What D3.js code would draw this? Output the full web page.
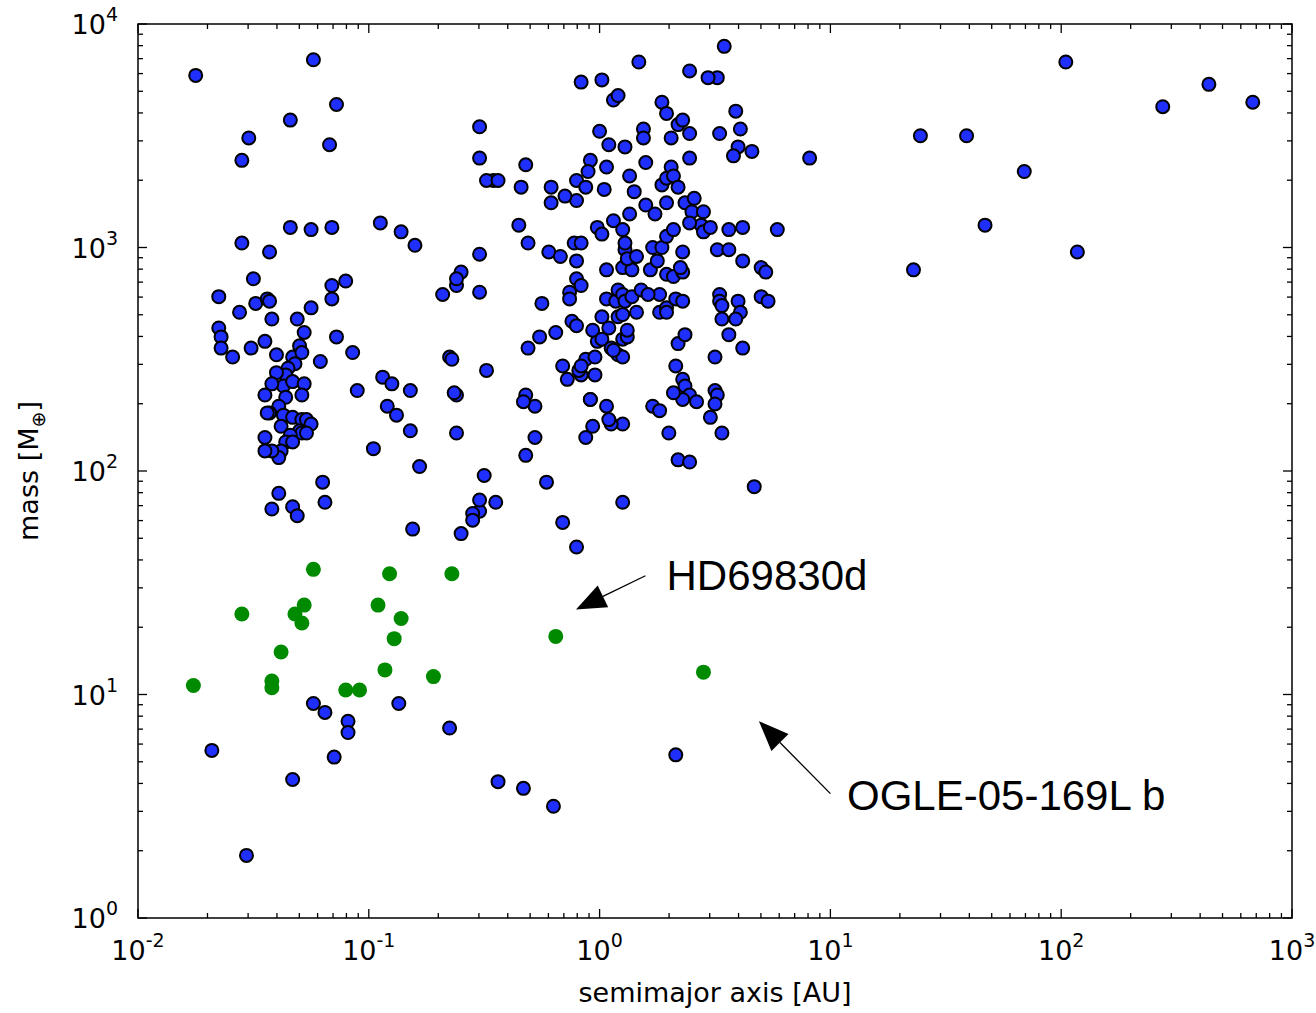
<!DOCTYPE html>
<html>
<head>
<meta charset="utf-8">
<script src="https://cdn.jsdelivr.net/npm/d3@7"></script>
<style>
  body { margin: 0; background: #fff; }
  text { font-family: "DejaVu Sans", sans-serif; }
  text.note { font-family: "Liberation Sans", Arial, sans-serif; }
</style>
</head>
<body>
<div id="chart"></div>
<script>
// log10 of semimajor axis [AU] and mass [M_earth]
var blueLogA = [-1.75,-1.24,-1.14,-1.34,-1.52,-1.17,-1.55,-1.34,-1.25,-1.16,-1.55,-1.43,-1.65,-1.65,-1.64,-1.64,-1.59,-1.51,-1.50,-1.56,-1.49,-1.44,-1.43,-1.42,-1.45,-1.40,-1.31,-1.25,-1.28,-1.16,-1.16,-1.10,-1.14,-1.21,-1.07,-1.05,-1.30,-1.33,-1.29,-1.32,-1.35,-1.36,-1.40,-1.37,-1.33,-1.28,-1.29,-1.36,-1.42,-1.45,-1.39,-1.43,-1.37,-1.38,-1.33,-1.29,-1.30,-1.27,-1.25,-1.29,-1.34,-1.36,-1.38,-1.39,-1.42,-1.45,-1.44,-1.33,-1.27,-1.45,-1.39,-1.42,-1.33,-1.31,-1.20,-1.19,
  -0.95,-0.86,-0.80,-0.68,-0.62,-0.60,-0.62,-0.65,-0.52,-0.52,-0.46,-0.52,-0.52,-0.49,-0.44,-0.34,-0.32,-0.35,-0.31,-0.21,-0.21,-0.22,-0.17,-0.19,-0.31,-0.32,-0.28,-0.33,-0.28,-0.32,-0.23,-0.26,-0.25,-0.62,-0.62,-0.64,-0.49,-0.50,-0.52,-0.55,-0.55,-0.60,-0.52,-0.45,-0.63,-0.94,-0.90,-0.92,-0.88,-0.82,-0.82,-0.78,-0.81,-0.98,-0.16,-0.10,
  -0.08,0.01,0.06,0.08,0.17,0.54,0.39,0.51,0.47,0.00,0.04,0.11,0.19,0.19,0.27,0.29,0.34,0.36,0.39,0.31,0.39,0.31,0.20,0.13,-0.04,-0.05,0.03,-0.10,-0.06,-0.10,-0.15,0.02,0.15,0.20,0.13,0.24,0.27,0.29,0.32,0.34,0.29,0.37,0.40,0.41,0.45,0.52,0.61,0.59,0.60,0.66,0.58,0.44,0.45,0.48,0.51,0.56,0.56,0.62,0.62,0.70,0.72,0.77,0.70,0.73,0.60,0.61,0.52,0.52,0.53,0.53,0.59,0.56,0.50,0.34,0.33,0.36,0.37,0.39,0.36,0.32,0.23,0.26,0.30,0.34,0.39,0.42,0.50,0.48,0.51,0.50,0.53,0.62,0.67,0.10,0.10,0.05,0.03,-0.04,-0.06,-0.08,-0.16,-0.01,-0.02,-0.06,-0.03,0.01,0.04,0.05,0.10,0.12,0.08,0.10,-0.02,0.01,0.03,0.07,0.08,0.10,0.08,0.10,0.11,0.03,0.10,0.14,0.14,0.18,0.22,0.23,0.25,0.27,0.29,0.32,0.36,0.35,0.36,0.39,0.29,0.32,0.26,0.26,0.29,0.33,0.36,0.37,0.29,0.21,0.16,0.12,-0.11,-0.08,-0.10,-0.10,-0.08,-0.13,-0.12,-0.10,-0.01,0.01,0.06,0.10,0.11,0.12,0.11,0.16,-0.09,-0.13,-0.08,-0.14,-0.04,-0.03,0.04,0.06,
  0.91,1.39,1.59,1.84,1.67,2.07,1.36,2.02,2.44,2.64,2.83,
  -1.24,-1.19,-1.09,-1.09,-1.15,-1.33,-1.68,-1.53,-0.87,-0.65,-0.44,-0.33,-0.20,0.33];
var blueLogM = [3.77,3.84,3.64,3.57,3.49,3.46,3.39,3.09,3.08,3.09,3.02,2.98,2.78,2.64,2.60,2.55,2.51,2.55,2.86,2.71,2.75,2.77,2.76,2.68,2.58,2.52,2.68,2.73,2.62,2.83,2.77,2.85,2.60,2.49,2.53,2.36,2.56,2.51,2.53,2.48,2.46,2.43,2.44,2.38,2.40,2.39,2.34,2.33,2.39,2.34,2.29,2.26,2.25,2.20,2.24,2.23,2.18,2.23,2.21,2.17,2.16,2.13,2.09,2.06,2.09,2.15,2.26,2.13,2.17,2.09,1.90,1.83,1.84,1.80,1.95,1.86,
  3.11,3.07,3.01,2.79,2.83,2.89,2.86,2.51,2.97,2.80,3.30,3.54,3.40,3.30,3.30,3.27,3.37,3.10,3.02,3.27,3.20,2.98,2.96,2.62,2.55,2.34,2.29,2.31,2.15,2.07,1.95,2.60,2.75,2.34,2.17,2.50,2.45,1.98,1.82,1.81,1.78,1.72,1.87,1.86,2.35,2.42,2.39,2.29,2.25,2.36,2.18,2.02,1.74,2.10,1.77,1.66,
  3.74,3.75,3.66,3.68,3.83,3.90,3.79,3.76,3.76,3.52,3.46,3.45,3.53,3.49,3.65,3.60,3.55,3.57,3.51,3.49,3.40,3.36,3.38,3.32,3.39,3.34,3.36,3.30,3.27,3.21,3.23,3.26,3.25,3.19,3.15,3.15,3.28,3.31,3.32,3.27,3.20,3.20,3.16,3.22,3.16,3.51,3.53,3.61,3.45,3.43,3.41,3.10,3.07,3.09,2.99,3.08,2.99,3.09,2.94,2.91,2.89,3.08,2.78,2.76,2.76,2.71,2.79,2.76,2.74,2.68,2.68,2.61,2.51,2.57,2.47,2.41,2.38,2.34,2.32,2.35,2.29,2.27,2.17,2.05,2.04,2.31,2.36,2.24,2.34,2.30,2.17,2.55,1.93,1.86,2.21,2.21,2.29,2.32,2.15,2.43,2.47,2.58,2.43,2.50,2.63,2.59,2.64,2.55,2.59,2.60,2.52,2.51,2.51,2.69,2.77,2.76,2.69,2.70,2.81,2.79,2.76,2.90,2.91,2.90,2.78,2.81,2.90,3.00,2.94,3.00,2.88,2.87,2.89,2.91,2.98,3.11,3.05,3.08,2.79,2.71,2.73,2.77,2.76,2.61,2.71,2.79,2.71,2.63,3.02,3.02,2.94,2.86,2.83,2.80,2.67,2.65,3.09,3.06,3.12,3.08,2.99,2.95,3.02,2.96,2.45,2.77,2.47,2.41,2.32,2.20,2.23,2.54,
  3.40,3.50,3.50,3.34,3.10,2.98,2.90,3.83,3.63,3.73,3.65,
  0.96,0.92,0.88,0.83,0.72,0.62,0.75,0.28,0.96,0.85,0.61,0.58,0.50,0.73];
var greenLogA = [-1.76,-1.55,-1.38,-1.42,-1.42,-1.32,-1.29,-1.28,-1.24,-1.10,-1.04,-0.96,-0.93,-0.91,-0.89,-0.86,-0.72,-0.64,-0.19,0.45];
var greenLogM = [1.04,1.36,1.19,1.03,1.06,1.36,1.32,1.40,1.56,1.02,1.02,1.40,1.11,1.54,1.25,1.34,1.08,1.54,1.26,1.10];
var xTickExp = [-2, -1, 0, 1, 2, 3];
var yTickExp = [0, 1, 2, 3, 4];
var notes = [
  {label: "HD69830d", textA: 1.95, textM: 34, headA: 0.79, headM: 24, tailA: 1.58, tailM: 34},
  {label: "OGLE-05-169L b", textA: 11.8, textM: 3.5, headA: 4.9, headM: 7.6, tailA: 10.0, tailM: 3.6}
];

var margin = {top: 24, right: 24, bottom: 95, left: 138},
    width = 1316 - margin.left - margin.right,
    height = 1013 - margin.top - margin.bottom;

var svg = d3.select("#chart").append("svg")
    .attr("width", 1316).attr("height", 1013)
  .append("g")
    .attr("transform", "translate(" + margin.left + "," + margin.top + ")");

var x = d3.scaleLog().domain([1e-2, 1e3]).range([0, width]);
var y = d3.scaleLog().domain([1, 1e4]).range([height, 0]);

// ticks: major and minor, inside, on all four sides
function minors(lo, hi) {
  var out = [];
  for (var e = lo; e < hi; e++) for (var k = 2; k <= 9; k++) out.push(k * Math.pow(10, e));
  return out;
}
var ticks = svg.append("g").attr("stroke", "#000").attr("stroke-width", 1.3);
xTickExp.forEach(function(e) {
  var px = x(Math.pow(10, e));
  ticks.append("line").attr("x1", px).attr("x2", px).attr("y1", height).attr("y2", height - 9);
  ticks.append("line").attr("x1", px).attr("x2", px).attr("y1", 0).attr("y2", 9);
});
minors(-2, 3).forEach(function(v) {
  var px = x(v);
  ticks.append("line").attr("x1", px).attr("x2", px).attr("y1", height).attr("y2", height - 5);
  ticks.append("line").attr("x1", px).attr("x2", px).attr("y1", 0).attr("y2", 5);
});
yTickExp.forEach(function(e) {
  var py = y(Math.pow(10, e));
  ticks.append("line").attr("y1", py).attr("y2", py).attr("x1", 0).attr("x2", 9);
  ticks.append("line").attr("y1", py).attr("y2", py).attr("x1", width).attr("x2", width - 9);
});
minors(0, 4).forEach(function(v) {
  var py = y(v);
  ticks.append("line").attr("y1", py).attr("y2", py).attr("x1", 0).attr("x2", 5);
  ticks.append("line").attr("y1", py).attr("y2", py).attr("x1", width).attr("x2", width - 5);
});

// tick labels 10^n
xTickExp.forEach(function(e) {
  var t = svg.append("text").attr("x", x(Math.pow(10, e))).attr("y", height + 42)
    .attr("text-anchor", "middle").attr("font-size", 27);
  t.append("tspan").text("10");
  t.append("tspan").attr("dy", -13).attr("font-size", 19).text(e);
});
yTickExp.forEach(function(e) {
  var t = svg.append("text").attr("x", -20).attr("y", y(Math.pow(10, e)) + 10)
    .attr("text-anchor", "end").attr("font-size", 27);
  t.append("tspan").text("10");
  t.append("tspan").attr("dy", -13).attr("font-size", 19).text(e);
});

svg.append("text").attr("x", width / 2).attr("y", height + 84)
  .attr("text-anchor", "middle").attr("font-size", 27).text("semimajor axis [AU]");
var yl = svg.append("text").attr("transform", "translate(-100," + (height / 2) + ") rotate(-90)")
  .attr("text-anchor", "middle").attr("font-size", 27);
yl.append("tspan").text("mass [M");
yl.append("tspan").attr("dy", 7).attr("font-size", 19).text("⊕");
yl.append("tspan").attr("dy", -7).text("]");

// points
var blue = blueLogA.map(function(a, i) { return {a: Math.pow(10, a), m: Math.pow(10, blueLogM[i])}; });
var green = greenLogA.map(function(a, i) { return {a: Math.pow(10, a), m: Math.pow(10, greenLogM[i])}; });

svg.selectAll(".blue").data(blue).enter().append("circle")
  .attr("cx", function(d) { return x(d.a); })
  .attr("cy", function(d) { return y(d.m); })
  .attr("r", 6.5).attr("fill", "#1e2fff").attr("stroke", "#000").attr("stroke-width", 2);
svg.selectAll(".green").data(green).enter().append("circle")
  .attr("cx", function(d) { return x(d.a); })
  .attr("cy", function(d) { return y(d.m); })
  .attr("r", 7.5).attr("fill", "#008a00");

// annotations
notes.forEach(function(n) {
  var x1 = x(n.tailA), y1 = y(n.tailM), x2 = x(n.headA), y2 = y(n.headM);
  var ang = Math.atan2(y2 - y1, x2 - x1), L = 30, W = 12;
  var bx = x2 - L * Math.cos(ang), by = y2 - L * Math.sin(ang);
  svg.append("line").attr("x1", x1).attr("y1", y1).attr("x2", bx).attr("y2", by)
    .attr("stroke", "#000").attr("stroke-width", 1.3);
  svg.append("path").attr("fill", "#000").attr("d",
    "M" + x2 + "," + y2 +
    "L" + (bx + W * Math.sin(ang)) + "," + (by - W * Math.cos(ang)) +
    "L" + (bx - W * Math.sin(ang)) + "," + (by + W * Math.cos(ang)) + "Z");
  svg.append("text").attr("class", "note").attr("x", x(n.textA)).attr("y", y(n.textM) + 14)
    .attr("font-size", 42).text(n.label);
});

svg.append("rect").attr("width", width).attr("height", height)
  .attr("fill", "none").attr("stroke", "#000").attr("stroke-width", 1.5);
</script>
</body>
</html>
